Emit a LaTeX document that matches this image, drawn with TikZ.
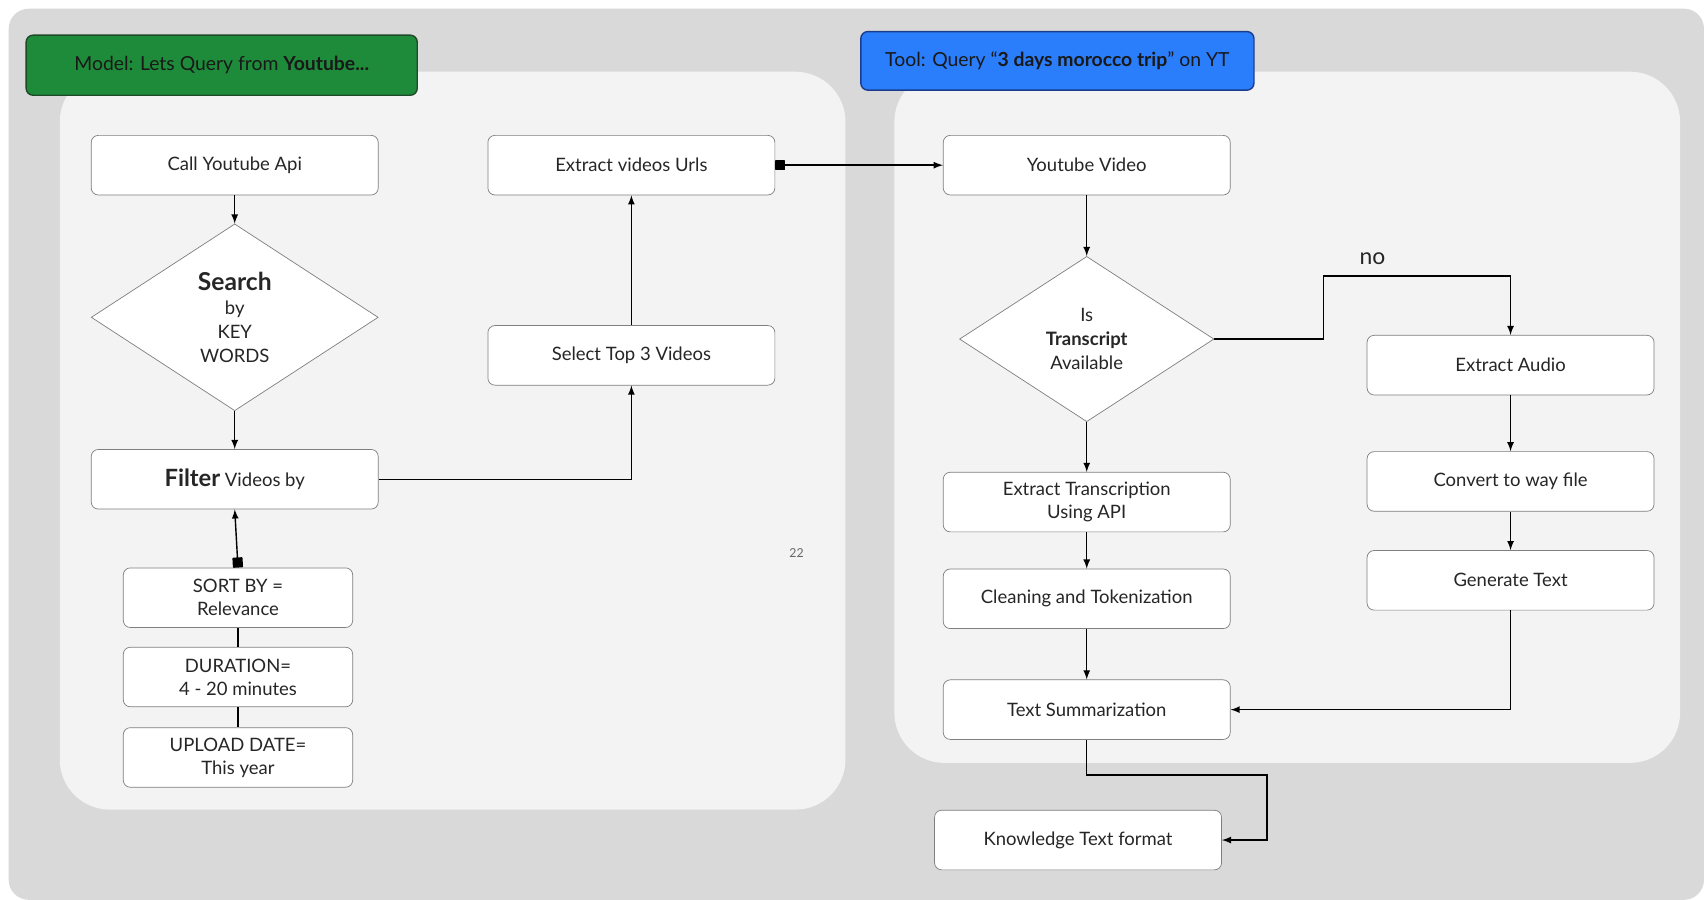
\documentclass[tikz,border=0pt]{standalone}
\usepackage{fontspec}
\setmainfont{Lato}
\usetikzlibrary{arrows,positioning,shapes.geometric}

\definecolor{bgGray}{HTML}{D9D9D9}
\definecolor{panelGray}{HTML}{F3F3F3}
\definecolor{boxLine}{HTML}{7F7F7F}
\definecolor{modelGreen}{HTML}{1E8B3A}
\definecolor{modelEdge}{HTML}{1F4A29}
\definecolor{toolBlue}{HTML}{2A7EFB}
\definecolor{toolEdge}{HTML}{1B3C8C}

\tikzset{
	stepbox/.style={draw=boxLine, fill=white, rounded corners=4pt, minimum width=5.73cm,
		minimum height=1.19cm, align=center, text=black!85, font=\fontsize{10.5}{13}\selectfont},
	optbox/.style={stepbox, minimum width=4.58cm},
	decision/.style={diamond, draw=boxLine, fill=white, inner sep=0pt, align=center,
		text=black!85, font=\fontsize{10.5}{13.5}\selectfont},
	headbox/.style={draw, line width=0.8pt, rounded corners=4pt, minimum width=7.81cm,
		minimum height=1.2cm, text=black!90, font=\fontsize{11}{13}\selectfont},
	flow/.style={thick, -latex},
	link/.style={thick}
}

\begin{document}
\begin{tikzpicture}[x=0.0217cm, y=-0.0217cm]
	\useasboundingbox (0,0) rectangle (1568,828);

	\fill
		[white] (0,0) rectangle (1568,828);
	\fill
		[bgGray, rounded corners=0.4cm] (8,8) rectangle (1568,828);

	\fill
		[panelGray, rounded corners=1cm] (55,66) rectangle (778,745);
	\fill
		[panelGray, rounded corners=1cm] (823,66) rectangle (1546,702);

	\node [headbox, draw=modelEdge, fill=modelGreen] (model) at (204,60)
		{Model: Lets Query from \textbf{Youtube...}};
	\node [headbox, draw=toolEdge, fill=toolBlue, minimum width=7.85cm, minimum height=1.17cm] (tool) at (973,56)
		{Tool: Query ``\textbf{3 days morocco trip}'' on YT};

	% query side
	\node [stepbox] (callapi) at (216,152) {Call Youtube Api};
	\node [decision, minimum width=5.73cm, minimum height=3.73cm] (search) at (216,292)
		{{\fontsize{14}{16}\selectfont\textbf{Search}}\\by\\KEY\\WORDS};
	\node [stepbox] (filter) at (216,441)
		{{\fontsize{13.5}{15}\selectfont\textbf{Filter}} Videos by};
	\node [optbox] (sortby) at (219,550) {SORT BY =\\Relevance};
	\node [optbox] (duration) at (219,623) {DURATION=\\4 - 20 minutes};
	\node [optbox] (upload) at (219,697) {UPLOAD DATE=\\This year};
	\node [stepbox] (urls) at (581,152) {Extract videos Urls};
	\node [stepbox] (select) at (581,327) {Select Top 3 Videos};
	\node [text=black!60, font=\fontsize{7}{8}\selectfont] (pagenum) at (733,509) {22};

	\draw [flow] (callapi) -- (search);
	\draw [flow] (search) -- (filter);
	\draw [thick, square-latex] (sortby.north) -- (filter.south);
	\draw [link] (sortby) -- (duration);
	\draw [link] (duration) -- (upload);
	\draw [flow] (filter.east) -| (select.south);
	\draw [flow] (select) -- (urls);

	% tool side
	\node [stepbox] (video) at (1000,152) {Youtube Video};
	\node [decision, minimum width=5.08cm, minimum height=3.3cm] (transcript) at (1000,312)
		{Is\\\textbf{Transcript}\\Available};
	\node [stepbox] (extract) at (1000,462) {Extract Transcription\\Using API};
	\node [stepbox] (cleaning) at (1000,551) {Cleaning and Tokenization};
	\node [stepbox] (summary) at (1000,653) {Text Summarization};
	\node [stepbox] (knowledge) at (992,773) {Knowledge Text format};
	\node [stepbox] (audio) at (1390,336) {Extract Audio};
	\node [stepbox] (convert) at (1390,443) {Convert to way file};
	\node [stepbox] (generate) at (1390,534) {Generate Text};
	\node [text=black!85, font=\fontsize{13}{15}\selectfont] (nolabel) at (1263,238) {no};

	\coordinate (noturn) at (1218,254);
	\coordinate (knowturn) at (1166,713);

	\draw [thick, square-latex] (urls.east) -- (video.west);
	\draw [flow] (video) -- (transcript);
	\draw [flow] (transcript.east) -| (noturn) -| (audio.north);
	\draw [flow] (transcript) -- (extract);
	\draw [flow] (extract) -- (cleaning);
	\draw [flow] (cleaning) -- (summary);
	\draw [flow] (audio) -- (convert);
	\draw [flow] (convert) -- (generate);
	\draw [flow] (generate.south) |- (summary.east);
	\draw [flow] (summary.south) |- (knowturn) |- (knowledge.east);
\end{tikzpicture}
\end{document}
